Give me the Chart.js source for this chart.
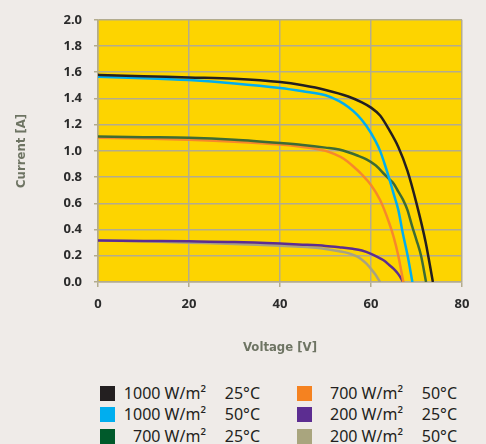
<!DOCTYPE html>
<html>
<head>
<meta charset="utf-8">
<script src="https://cdn.jsdelivr.net/npm/chart.js@4/dist/chart.umd.min.js"></script>
<style>
    body { margin: 0; background: #efebe8; width: 486px; height: 444px; position: relative; overflow: hidden; }
    #wrap { position: absolute; left: 0; top: 0; width: 486px; height: 360px; }
    .item { position: absolute; height: 21px; font: 16px "Noto Sans", sans-serif; color: #231f20; }
    .item .sw { position: absolute; left: 0; top: 0; width: 15px; height: 15px; }
    .item .irr { position: absolute; right: 54px; top: -4px; white-space: nowrap; }
    .item .tmp { position: absolute; right: 0; top: -4px; white-space: nowrap; }
</style>
</head>
<body>
<div id="wrap"><canvas id="ivChart"></canvas></div>
<div id="legend"></div>
<script>
// measured I-V curves, voltage [V] / current [A]
const irradiance = ['1000 W/m²', '1000 W/m²', '700 W/m²', '700 W/m²', '200 W/m²', '200 W/m²'];
const temperature = ['25°C', '50°C', '25°C', '50°C', '25°C', '50°C'];
const colors = ['#231f20', '#00aeef', '#3d6b34', '#f7882b', '#5c2d91', '#a8a283'];
const swatchColors = ['#231f20', '#00aeef', '#005a2b', '#f58220', '#5c2d91', '#a9a57e'];

const v1000_25 = [0, 10, 20, 30, 40, 45, 50, 55, 58, 60, 62, 64, 66, 68, 70, 72, 73.6];
const i1000_25 = [1.58, 1.57, 1.56, 1.55, 1.525, 1.5, 1.465, 1.415, 1.37, 1.33, 1.27, 1.16, 1.03, 0.85, 0.6, 0.305, 0];

const v1000_50 = [0, 10, 20, 30, 40, 45, 50, 53, 55, 57, 59, 61, 62, 63, 64, 65, 66, 67, 68, 69.1];
const i1000_50 = [1.565, 1.555, 1.54, 1.515, 1.48, 1.455, 1.425, 1.38, 1.335, 1.275, 1.19, 1.075, 1.0, 0.9, 0.79, 0.67, 0.55, 0.37, 0.21, 0];

const v700_25 = [0, 10, 20, 30, 40, 45, 50, 53, 55, 57, 59, 61, 63, 64, 65, 66, 67, 68, 69, 70, 71, 72.1];
const i700_25 = [1.11, 1.105, 1.1, 1.085, 1.06, 1.045, 1.025, 1.01, 0.99, 0.965, 0.935, 0.89, 0.82, 0.785, 0.75, 0.69, 0.63, 0.55, 0.43, 0.32, 0.2, 0];

const v700_50 = [0, 10, 20, 30, 40, 45, 48, 50, 52, 54, 56, 58, 60, 62, 64, 65, 66, 67.1];
const i700_50 = [1.1, 1.095, 1.085, 1.07, 1.048, 1.03, 1.015, 1.0, 0.975, 0.94, 0.885, 0.82, 0.74, 0.625, 0.45, 0.34, 0.2, 0];

const v200_25 = [0, 10, 20, 30, 40, 45, 50, 53, 56, 58, 60, 62, 63, 64, 65, 66, 67.1];
const i200_25 = [0.316, 0.313, 0.31, 0.305, 0.293, 0.285, 0.275, 0.265, 0.253, 0.24, 0.215, 0.18, 0.16, 0.13, 0.1, 0.06, 0];

const v200_50 = [0, 10, 20, 30, 35, 40, 45, 50, 53, 55, 57, 58, 59, 60, 61, 62];
const i200_50 = [0.318, 0.31, 0.3, 0.29, 0.284, 0.277, 0.268, 0.252, 0.235, 0.22, 0.193, 0.17, 0.14, 0.1, 0.055, 0];

const voltages = [v1000_25, v1000_50, v700_25, v700_50, v200_25, v200_50];
const currents = [i1000_25, i1000_50, i700_25, i700_50, i200_25, i200_50];

const xTicks = [0, 20, 40, 60, 80];
const yTicks = [0, 0.2, 0.4, 0.6, 0.8, 1.0, 1.2, 1.4, 1.6, 1.8, 2.0];

const gridColor = '#b3ac8e';
const titleColor = '#6e7463';
const titleFont = { family: 'DejaVu Sans Condensed', size: 13, weight: 'bold' };

const plotBackground = {
    id: 'plotBackground',
    beforeDraw(chart) {
        const a = chart.chartArea;
        const ctx = chart.ctx;
        ctx.save();
        ctx.fillStyle = '#fdd400';
        ctx.fillRect(a.left, a.top, a.right - a.left, a.bottom - a.top);
        ctx.restore();
    }
};

document.addEventListener('DOMContentLoaded', function () {
    const datasets = voltages.map(function (vs, k) {
        return {
            label: irradiance[k] + ' ' + temperature[k],
            data: vs.map(function (v, j) { return { x: v, y: currents[k][j] }; }),
            borderColor: colors[k],
            borderWidth: 2.5,
            pointRadius: 0,
            cubicInterpolationMode: 'monotone',
            fill: false,
        };
    });

    new Chart(document.getElementById('ivChart'), {
        type: 'line',
        data: { datasets: datasets },
        options: {
            responsive: true,
            maintainAspectRatio: false,
            animation: false,
            layout: { padding: { left: 0, right: 24, top: 19, bottom: 0 } },
            plugins: {
                legend: { display: false },
                tooltip: { enabled: false },
            },
            scales: {
                x: {
                    type: 'linear',
                    min: 0,
                    max: 80,
                    afterBuildTicks: function (s) { s.ticks = xTicks.map(function (v) { return { value: v }; }); },
                    afterFit: function (s) { s.height = 78; },
                    grid: { color: gridColor, lineWidth: 1.5, tickLength: 5 },
                    border: { color: gridColor, width: 1.5 },
                    ticks: { color: '#2b2b2b', padding: 9, font: { family: 'Noto Sans', size: 13, weight: 'bold' } },
                    title: {
                        display: true,
                        text: 'Voltage [V]',
                        color: titleColor,
                        padding: { top: 0, bottom: 5 },
                        font: titleFont,
                    },
                },
                y: {
                    min: 0,
                    max: 2,
                    afterBuildTicks: function (s) { s.ticks = yTicks.map(function (v) { return { value: v }; }); },
                    afterFit: function (s) { s.width = 98; },
                    grid: { color: gridColor, lineWidth: 1.5, tickLength: 4 },
                    border: { color: gridColor, width: 1.5 },
                    ticks: {
                        color: '#2b2b2b',
                        padding: 12,
                        font: { family: 'Noto Sans', size: 13, weight: 'bold' },
                        callback: function (v) { return v.toFixed(1); },
                    },
                    title: {
                        display: true,
                        text: 'Current [A]',
                        color: titleColor,
                        padding: { top: 14, bottom: 0 },
                        font: titleFont,
                    },
                },
            },
        },
        plugins: [plotBackground],
    });

    // two-column legend, filled column by column
    const legend = document.getElementById('legend');
    const colLeft = [100, 297];
    const colWidth = [160, 160];
    const rowTop = [386, 407, 429];
    irradiance.forEach(function (irr, k) {
        const col = Math.floor(k / 3);
        const row = k % 3;
        const item = document.createElement('div');
        item.className = 'item';
        item.style.left = colLeft[col] + 'px';
        item.style.top = rowTop[row] + 'px';
        item.style.width = colWidth[col] + 'px';
        item.innerHTML = '<span class="sw" style="background:' + swatchColors[k] + '"></span>' +
            '<span class="irr">' + irr + '</span><span class="tmp">' + temperature[k] + '</span>';
        legend.appendChild(item);
    });
});
</script>
</body>
</html>
